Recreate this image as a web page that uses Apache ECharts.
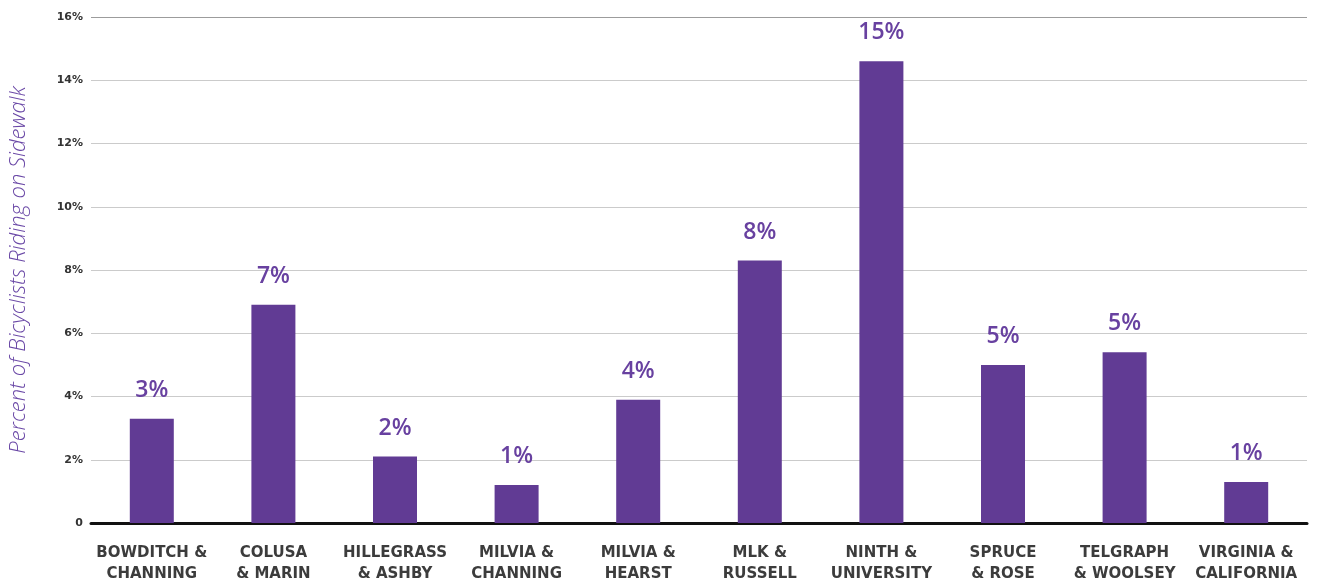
<!DOCTYPE html>
<html>
<head>
<meta charset="utf-8">
<script src="https://cdn.jsdelivr.net/npm/echarts@6/dist/echarts.min.js"></script>
<style>
  html, body { margin: 0; padding: 0; background: #fff; }
  #chart { width: 1320px; height: 585px; }
</style>
</head>
<body>
<div id="chart"></div>
<script>
// Share of bicyclists riding on the sidewalk, by intersection
const intersections = [
  'BOWDITCH &\nCHANNING', 'COLUSA\n& MARIN', 'HILLEGRASS\n& ASHBY', 'MILVIA &\nCHANNING',
  'MILVIA &\nHEARST', 'MLK &\nRUSSELL', 'NINTH &\nUNIVERSITY', 'SPRUCE\n& ROSE',
  'TELGRAPH\n& WOOLSEY', 'VIRGINIA &\nCALIFORNIA'
];
const sidewalkShare = [3.3, 6.9, 2.1, 1.2, 3.9, 8.3, 14.6, 5.0, 5.4, 1.3];
const yTicks = [0, 2, 4, 6, 8, 10, 12, 14, 16];

const purple = '#613b94';
const chart = echarts.init(document.getElementById('chart'));

// light grid lines, with a darker line at the top of the scale
const gridColors = yTicks.map((t, i) => (i === yTicks.length - 1 ? '#9c9c9c' : '#cbcbcb'));

chart.setOption({
  animation: false,
  grid: { left: 90, right: 13, top: 17, bottom: 57, containLabel: false },
  xAxis: {
    type: 'category',
    data: intersections,
    axisLine: { show: true, lineStyle: { color: '#111', width: 3 } },
    axisTick: { show: false },
    axisLabel: {
      interval: 0,
      margin: 20,
      color: '#3c3c3c',
      fontFamily: 'DejaVu Sans',
      fontWeight: 'bold',
      fontSize: 15,
      lineHeight: 21
    }
  },
  yAxis: {
    type: 'value',
    min: yTicks[0],
    max: yTicks[yTicks.length - 1],
    interval: 2,
    name: 'Percent of Bicyclists Riding on Sidewalk',
    nameLocation: 'middle',
    nameGap: 61,
    nameTextStyle: {
      color: '#6a48a6',
      fontFamily: 'Open Sans',
      fontStyle: 'italic',
      fontWeight: 300,
      fontSize: 22
    },
    axisLine: { show: false },
    axisTick: { show: false },
    splitLine: { lineStyle: { color: gridColors, width: 1 } },
    axisLabel: {
      margin: 8,
      color: '#333',
      fontFamily: 'DejaVu Sans',
      fontWeight: 'bold',
      fontSize: 11,
      formatter: v => (v === 0 ? '0' : v + '%')
    }
  },
  series: [{
    type: 'bar',
    data: sidewalkShare,
    barWidth: 44,
    itemStyle: { color: purple },
    label: {
      show: true,
      position: 'top',
      distance: 17,
      color: '#6841a0',
      fontFamily: 'Open Sans',
      fontWeight: 600,
      fontSize: 23,
      formatter: p => Math.round(p.value) + '%'
    }
  }]
});
</script>
</body>
</html>
